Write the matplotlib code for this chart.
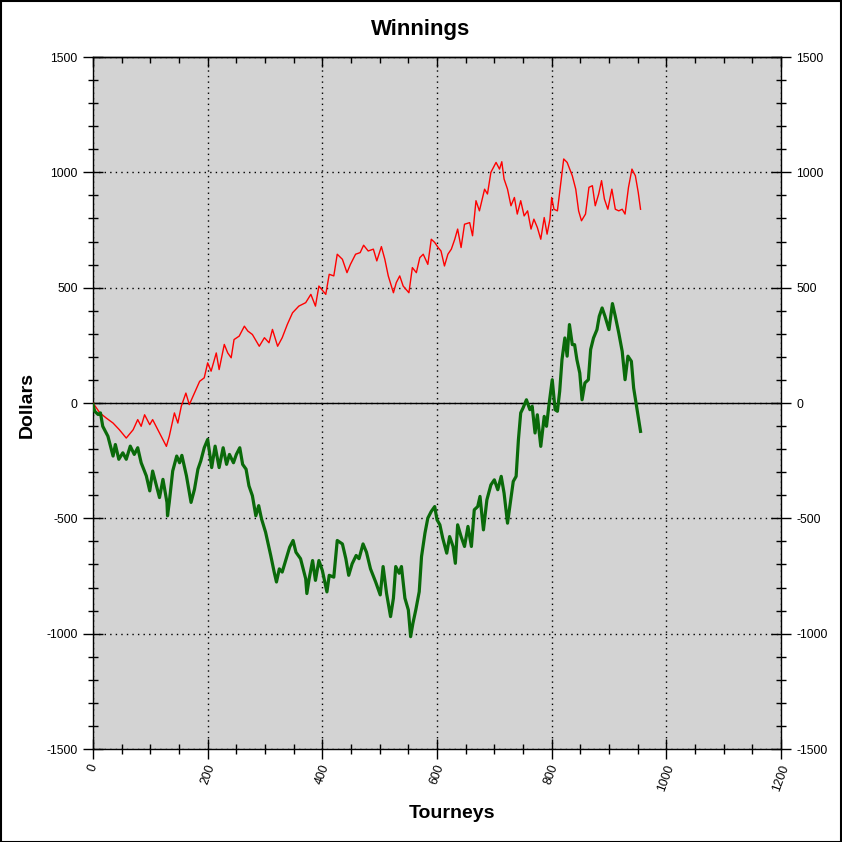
import matplotlib
matplotlib.use("Agg")
import matplotlib.pyplot as plt
from matplotlib.ticker import MultipleLocator, NullFormatter
from matplotlib.patches import Rectangle

plt.rcParams['font.family'] = ['Liberation Sans', 'DejaVu Sans']

# Red series (tourney, dollars)
red_t = [0, 12, 23, 35, 46, 58, 70, 78, 84, 90, 99, 104, 113, 122, 128, 133, 142, 148, 154, 162,
         168, 177, 186, 194, 200, 206, 215, 220, 229, 235, 241, 246, 255, 264, 270, 278, 290, 299,
         307, 313, 322, 330, 339, 348, 359, 371, 380, 388, 394, 406, 412, 420, 426, 435, 443, 449,
         458, 466, 472, 480, 489, 495, 503, 509, 515, 524, 529, 535, 541, 551, 557, 564, 570, 576,
         584, 590, 596, 602, 607, 613, 619, 625, 631, 636, 642, 648, 657, 662, 668, 674, 683, 688,
         694, 703, 709, 713, 717, 723, 729, 735, 740, 746, 752, 758, 764, 769, 775, 781, 787, 792,
         797, 800, 804, 810, 816, 821, 827, 836, 842, 847, 852, 859, 865, 871, 876, 882, 887, 892,
         898, 905, 911, 917, 923, 928, 934, 940, 946, 951, 955]
red_v = [0, -43, -65, -87, -116, -152, -116, -72, -101, -51, -94, -72, -116, -159, -188, -145, -43,
         -87, -14, 43, -7, 43, 94, 109, 174, 138, 217, 145, 254, 217, 196, 275, 290, 333, 312, 297,
         246, 283, 261, 319, 246, 283, 341, 391, 420, 435, 471, 420, 507, 471, 558, 551, 645, 623,
         565, 601, 645, 652, 684, 659, 667, 616, 678, 623, 551, 478, 522, 551, 507, 478, 587, 565,
         630, 645, 601, 710, 696, 674, 659, 594, 645, 667, 710, 754, 674, 775, 782, 725, 877, 833,
         927, 906, 1000, 1043, 1014, 1046, 971, 927, 855, 891, 819, 877, 811, 833, 754, 797, 761,
         710, 804, 732, 797, 891, 840, 833, 956, 1058, 1043, 985, 927, 833, 790, 819, 935, 942, 855,
         906, 964, 884, 840, 927, 840, 833, 840, 819, 935, 1014, 985, 913, 840]

# Green series (tourney, dollars)
green_t = [0, 3, 9, 13, 17, 26, 35, 39, 45, 52, 58, 65, 72, 78, 84, 93, 99, 104, 116, 122, 129, 130,
           133, 139, 146, 151, 155, 163, 171, 177, 183, 188, 194, 200, 207, 213, 220, 227, 233, 238,
           245, 250, 256, 261, 267, 272, 278, 284, 289, 294, 301, 310, 316, 320, 325, 330, 336, 343,
           349, 354, 362, 371, 373, 377, 383, 388, 394, 400, 408, 412, 420, 426, 435, 441, 446, 452,
           459, 464, 471, 477, 484, 493, 501, 506, 512, 519, 524, 528, 534, 538, 544, 550, 554, 558,
           563, 569, 573, 579, 584, 590, 596, 600, 605, 610, 617, 622, 628, 632, 636, 642, 648, 654,
           660, 665, 671, 675, 681, 687, 694, 700, 706, 712, 717, 723, 727, 733, 738, 742, 746, 750,
           756, 762, 766, 771, 775, 781, 787, 791, 795, 801, 806, 810, 814, 818, 823, 827, 831, 836,
           840, 844, 849, 853, 858, 864, 868, 873, 879, 883, 888, 893, 900, 906, 911, 917, 923, 928,
           933, 939, 943, 948, 955]
green_v = [-7, -36, -50, -43, -101, -144, -230, -180, -244, -216, -244, -187, -223, -194, -259, -316,
           -381, -295, -410, -331, -431, -489, -431, -295, -230, -259, -227, -316, -431, -374, -287,
           -251, -194, -158, -280, -187, -280, -194, -266, -223, -259, -223, -194, -266, -287, -359,
           -402, -489, -445, -503, -560, -661, -733, -776, -719, -733, -683, -625, -596, -647, -675,
           -762, -826, -762, -683, -769, -683, -726, -819, -747, -755, -596, -611, -675, -747, -697,
           -661, -675, -611, -647, -719, -776, -832, -709, -825, -926, -846, -709, -738, -709, -846,
           -897, -1013, -955, -897, -818, -666, -564, -499, -470, -449, -506, -528, -586, -651, -579,
           -622, -695, -528, -579, -622, -535, -622, -463, -449, -405, -550, -420, -355, -333, -376,
           -318, -391, -521, -449, -340, -318, -159, -43, -22, 14, -29, -14, -130, -51, -188, -58,
           -101, -14, 101, -29, -36, 51, 188, 282, 203, 340, 253, 253, 188, 130, 14, 87, 101, 232,
           282, 318, 376, 412, 376, 318, 431, 376, 304, 224, 101, 203, 181, 65, -14, -123]

x_major = [0, 200, 400, 600, 800, 1000, 1200]
y_major = [-1500, -1000, -500, 0, 500, 1000, 1500]

fig = plt.figure(figsize=(8.42, 8.42), dpi=100)
ax = fig.add_axes([93/842, 93/842, 688/842, 692/842])
ax.set_facecolor('#D3D3D3')
ax.set_xlim(0, 1200)
ax.set_ylim(-1500, 1500)

ax.set_xticks(x_major)
ax.set_xticklabels([str(v) for v in x_major], rotation=70, ha='center', va='top')
ax.set_yticks(y_major)
ax.set_yticklabels([str(v) for v in y_major])
ax.xaxis.set_minor_locator(MultipleLocator(50))
ax.yaxis.set_minor_locator(MultipleLocator(100))
ax.tick_params(which='major', direction='inout', length=14, width=1, colors='black',
               labelsize=8.7, top=False, right=True, labelright=True, pad=4)
ax.tick_params(which='minor', direction='inout', length=7, width=1, colors='black',
               top=False, right=True)
ax.tick_params(axis='x', which='major', pad=3)

# top axis: ticks pointing inward only
top = ax.secondary_xaxis('top')
top.set_xticks(x_major)
top.xaxis.set_major_formatter(NullFormatter())
top.xaxis.set_minor_locator(MultipleLocator(50))
top.tick_params(which='major', direction='in', length=7, width=1, colors='black')
top.tick_params(which='minor', direction='in', length=4, width=1, colors='black')
top.spines['top'].set_linewidth(1)

ax.grid(which='major', color='black', linestyle=(0, (1, 3)), linewidth=1)
ax.axhline(0, color='black', linewidth=1, zorder=2)

ax.plot(red_t, red_v, color='#FF0000', linewidth=1, zorder=3)
ax.plot(green_t, green_v, color='#0A6A0A', linewidth=2.3, zorder=4)

for s in ax.spines.values():
    s.set_linewidth(1)
    s.set_color('black')

fig.text(421/842, 1 - 30/842, 'Winnings', ha='center', va='center', fontsize=16, fontweight='bold')
fig.text(452/842, 1 - 814/842, 'Tourneys', ha='center', va='center', fontsize=14, fontweight='bold')
fig.text(27/842, 1 - 405/842, 'Dollars', ha='center', va='center', rotation=90,
         fontsize=14, fontweight='bold')

fig.patches.append(Rectangle((0.5/842, 0.5/842), 1 - 1.5/842, 1 - 1.5/842, transform=fig.transFigure,
                             fill=False, edgecolor='black', linewidth=1.5))

fig.savefig('out.png', dpi=100)
